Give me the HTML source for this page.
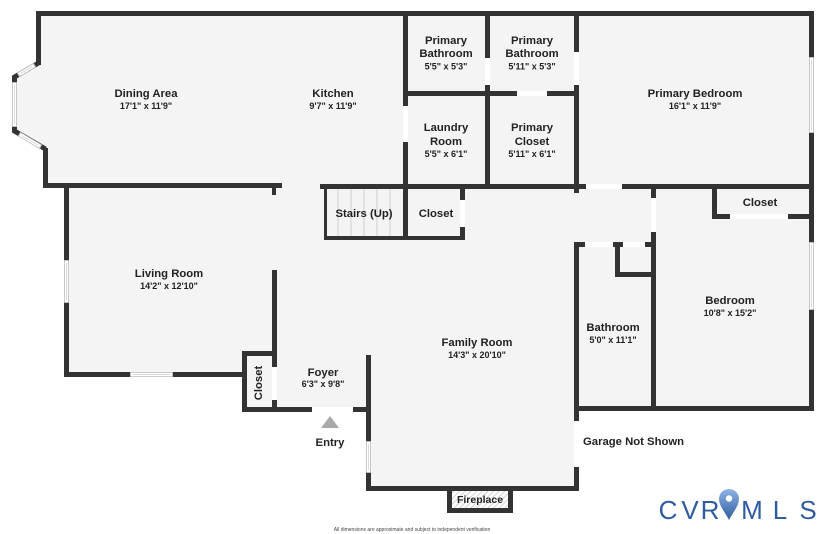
<!DOCTYPE html>
<html><head><meta charset="utf-8"><style>
html,body{margin:0;padding:0;background:#fff;}
svg{display:block;}
.t{font-family:"Liberation Sans",Arial,sans-serif;font-weight:bold;font-size:11.3px;fill:#222;text-anchor:middle;}
.d{font-family:"Liberation Sans",Arial,sans-serif;font-weight:bold;font-size:9px;fill:#222;text-anchor:middle;}
</style></head><body>
<svg width="825" height="534" viewBox="0 0 825 534" xmlns="http://www.w3.org/2000/svg">
<defs>
<pattern id="h" width="4" height="4" patternUnits="userSpaceOnUse" patternTransform="rotate(45)">
<rect width="4" height="4" fill="#fff"/><line x1="0" y1="0" x2="0" y2="4" stroke="#aaa" stroke-width="1"/>
</pattern>
<linearGradient id="pg" x1="0" y1="0" x2="0" y2="1">
<stop offset="0" stop-color="#8fb4e6"/><stop offset="1" stop-color="#2f5c9f"/>
</linearGradient>
</defs>
<rect width="825" height="534" fill="#fff"/>
<polygon fill="#f4f4f4" points="36,11 814,11 814,411 579,411 579,491 366,491 366,412 242,412 242,377 64,377 64,188 43,188 43,148 14,131 14,77 36,65"/>

<g fill="#333">
<rect x="36" y="11" width="778" height="5"/>
<rect x="36" y="11" width="5" height="54"/>
<rect x="43" y="148" width="5" height="40"/>
<rect x="43" y="183" width="239" height="5"/>
<rect x="272" y="188" width="4" height="7"/>
<rect x="64" y="183" width="5" height="194"/>
<rect x="64" y="372" width="183" height="5"/>
<rect x="242" y="351" width="5" height="61"/>
<rect x="242" y="351" width="35" height="5"/>
<rect x="272" y="270" width="5" height="142"/>
<rect x="242" y="407" width="129" height="5"/>
<rect x="366" y="355" width="5" height="136"/>
<rect x="366" y="486" width="213" height="5"/>
<rect x="447" y="486" width="66" height="27"/>
<rect x="574" y="242" width="5" height="249"/>
<rect x="574" y="242" width="82" height="5"/>
<rect x="615" y="242" width="5" height="35"/>
<rect x="615" y="272" width="41" height="5"/>
<rect x="651" y="184" width="5" height="227"/>
<rect x="574" y="406" width="240" height="5"/>
<rect x="809" y="11" width="5" height="400"/>
<rect x="320" y="184" width="494" height="5"/>
<rect x="712" y="184" width="5" height="35"/>
<rect x="712" y="214" width="102" height="5"/>
<rect x="574" y="11" width="5" height="182"/>
<rect x="485" y="11" width="5" height="178"/>
<rect x="403" y="91" width="176" height="5"/>
<rect x="403" y="11" width="5" height="229"/>
<rect x="324" y="189" width="3" height="51"/>
<rect x="324" y="236" width="141" height="4"/>
<rect x="460" y="189" width="5" height="51"/>
</g>
<polyline points="38.5,63 14.5,77 14.5,131 45.5,149" fill="none" stroke="#333" stroke-width="5" stroke-linejoin="miter"/>

<g fill="#fff">
<rect x="272" y="367" width="5" height="33"/>
<rect x="312" y="407" width="41" height="5"/>
<rect x="574" y="421" width="5" height="46"/>
<rect x="585" y="242" width="28" height="5"/>
<rect x="623" y="242" width="22" height="5"/>
<rect x="651" y="198" width="5" height="34"/>
<rect x="586" y="184" width="36" height="5"/>
<rect x="730" y="214" width="58" height="5"/>
<rect x="574" y="52" width="5" height="33"/>
<rect x="485" y="58" width="5" height="27"/>
<rect x="517" y="91" width="30" height="5"/>
<rect x="403" y="106" width="5" height="36"/>
<rect x="460" y="200" width="5" height="27"/>
</g>

<g stroke-linecap="butt">
<g stroke="#bbb" stroke-width="5">
<line x1="66.5" y1="260" x2="66.5" y2="303"/>
<line x1="130" y1="374.5" x2="173" y2="374.5"/>
<line x1="368.5" y1="441" x2="368.5" y2="473"/>
<line x1="811.5" y1="57" x2="811.5" y2="133"/>
<line x1="811.5" y1="242" x2="811.5" y2="310"/>
<line x1="35" y1="65" x2="18" y2="75"/>
<line x1="14.5" y1="82" x2="14.5" y2="127"/>
<line x1="19" y1="134" x2="41" y2="147"/>
</g>
<g stroke="#fff" stroke-width="3.4">
<line x1="66.5" y1="261" x2="66.5" y2="302"/>
<line x1="131" y1="374.5" x2="172" y2="374.5"/>
<line x1="368.5" y1="442" x2="368.5" y2="472"/>
<line x1="811.5" y1="58" x2="811.5" y2="132"/>
<line x1="811.5" y1="243" x2="811.5" y2="309"/>
<line x1="34" y1="65.6" x2="19" y2="74.4"/>
<line x1="14.5" y1="83" x2="14.5" y2="126"/>
<line x1="20" y1="134.6" x2="40" y2="146.4"/>
</g>
<g stroke="#ccc" stroke-width="0.7">
<line x1="66.5" y1="263" x2="66.5" y2="300"/>
<line x1="133" y1="374.5" x2="170" y2="374.5"/>
<line x1="368.5" y1="444" x2="368.5" y2="470"/>
<line x1="811.5" y1="60" x2="811.5" y2="130"/>
<line x1="811.5" y1="245" x2="811.5" y2="307"/>
<line x1="32" y1="66.8" x2="21" y2="73.2"/>
<line x1="14.5" y1="85" x2="14.5" y2="124"/>
<line x1="22" y1="135.8" x2="38" y2="145.2"/>
</g>
</g>

<g stroke="#c8c8c8" stroke-width="0.8">
<line x1="338" y1="189" x2="338" y2="236"/>
<line x1="351" y1="189" x2="351" y2="236"/>
<line x1="364" y1="189" x2="364" y2="236"/>
<line x1="377" y1="189" x2="377" y2="236"/>
<line x1="390" y1="189" x2="390" y2="236"/>
</g>

<rect x="452" y="491" width="56" height="17" fill="url(#h)"/>

<polygon points="330,416 339,428 321,428" fill="#a9a9a9"/>

<text class="t" x="146" y="97">Dining Area</text>
<text class="d" x="146" y="109">17'1" x 11'9"</text>
<text class="t" x="333" y="97">Kitchen</text>
<text class="d" x="333" y="109">9'7" x 11'9"</text>
<text class="t" x="446" y="44">Primary</text>
<text class="t" x="446" y="57">Bathroom</text>
<text class="d" x="446" y="69.5">5'5" x 5'3"</text>
<text class="t" x="532" y="44">Primary</text>
<text class="t" x="532" y="57">Bathroom</text>
<text class="d" x="532" y="69.5">5'11" x 5'3"</text>
<text class="t" x="695" y="97">Primary Bedroom</text>
<text class="d" x="695" y="109">16'1" x 11'9"</text>
<text class="t" x="446" y="131">Laundry</text>
<text class="t" x="446" y="145">Room</text>
<text class="d" x="446" y="157">5'5" x 6'1"</text>
<text class="t" x="532" y="131">Primary</text>
<text class="t" x="532" y="145">Closet</text>
<text class="d" x="532" y="157">5'11" x 6'1"</text>
<text class="t" x="760" y="206">Closet</text>
<text class="t" x="364" y="217">Stairs (Up)</text>
<text class="t" x="436" y="217">Closet</text>
<text class="t" x="169" y="277">Living Room</text>
<text class="d" x="169" y="289">14'2" x 12'10"</text>
<text class="t" x="323" y="376">Foyer</text>
<text class="d" x="323" y="387">6'3" x 9'8"</text>
<text class="t" transform="translate(262,383) rotate(-90)" x="0" y="0">Closet</text>
<text class="t" x="477" y="346">Family Room</text>
<text class="d" x="477" y="358">14'3" x 20'10"</text>
<text class="t" x="613" y="331">Bathroom</text>
<text class="d" x="613" y="343">5'0" x 11'1"</text>
<text class="t" x="730" y="304">Bedroom</text>
<text class="d" x="730" y="316">10'8" x 15'2"</text>
<text class="t" x="583" y="445" style="text-anchor:start">Garage Not Shown</text>
<text class="t" x="330" y="446">Entry</text>
<text class="t" x="480" y="503" style="font-size:10.5px">Fireplace</text>
<text x="412" y="531" style="font-family:'Liberation Sans',Arial,sans-serif;font-size:5px;fill:#444;text-anchor:middle">All dimensions are approximate and subject to independent verification</text>

<g style="font-family:'Liberation Sans',Arial,sans-serif;font-size:26px;fill:#2f5c9f;text-anchor:middle">
<text x="668" y="519">C</text>
<text x="690" y="519">V</text>
<text x="710" y="519">R</text>
<text x="752" y="519">M</text>
<text x="780" y="519">L</text>
<text x="808" y="519">S</text>
</g>
<path d="M729,520 C725,512 719,506 719,499 A10,10 0 0 1 739,499 C739,506 733,512 729,520 Z" fill="url(#pg)"/>
<circle cx="729" cy="498.5" r="3.2" fill="#fff"/>
</svg>
</body></html>
